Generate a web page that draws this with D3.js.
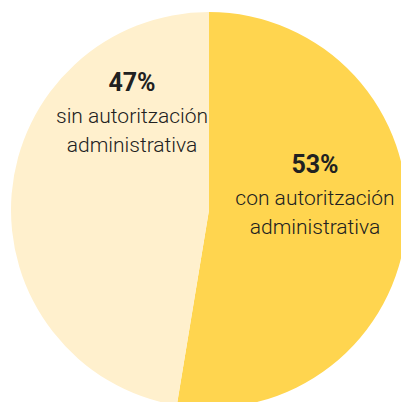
<!DOCTYPE html>
<html>
<head>
<meta charset="utf-8">
<script src="https://cdn.jsdelivr.net/npm/d3@7"></script>
<style>
  html, body { margin: 0; padding: 0; background: #fff; }
  svg { display: block; }
</style>
</head>
<body>
<div id="chart"></div>
<script>
const categories = ['con autoritzación administrativa', 'sin autoritzación administrativa'];
const values = [52.6, 47.4];
const pctLabels = ['53%', '47%'];
const lineLabels = [['con autoritzación', 'administrativa'], ['sin autoritzación', 'administrativa']];
const colors = ['#ffd54f', '#fff0cd'];

const width = 401, height = 402;
const cx = 209, cy = 210, radius = 198;
// label anchor (x, y of percentage baseline) relative to pie centre
const labelPos = [[106, -37], [-77, -119]];

const svg = d3.select('#chart').append('svg').attr('width', width).attr('height', height);
const g = svg.append('g').attr('transform', `translate(${cx},${cy})`);

const pie = d3.pie().sort(null).value(d => d)(values);
const arc = d3.arc().innerRadius(0).outerRadius(radius);

g.selectAll('path.slice')
  .data(pie)
  .enter()
  .append('path')
  .attr('class', 'slice')
  .attr('d', arc)
  .attr('fill', (d, i) => colors[i]);

const labels = g.selectAll('g.label')
  .data(pie)
  .enter()
  .append('g')
  .attr('class', 'label')
  .attr('transform', (d, i) => `translate(${labelPos[i][0]},${labelPos[i][1]})`)
  .style('font-family', 'Roboto, sans-serif')
  .attr('text-anchor', 'middle')
  .attr('fill', '#212121');

labels.append('text')
  .attr('y', 0)
  .style('font-size', '25px')
  .style('font-weight', 700)
  .text((d, i) => pctLabels[i]);

labels.each(function (d, i) {
  d3.select(this).selectAll('text.line')
    .data(lineLabels[i])
    .enter()
    .append('text')
    .attr('class', 'line')
    .attr('y', (t, j) => 32 + j * 29)
    .style('font-size', '21px')
    .style('font-weight', 300)
    .text(t => t);
});
</script>
</body>
</html>
